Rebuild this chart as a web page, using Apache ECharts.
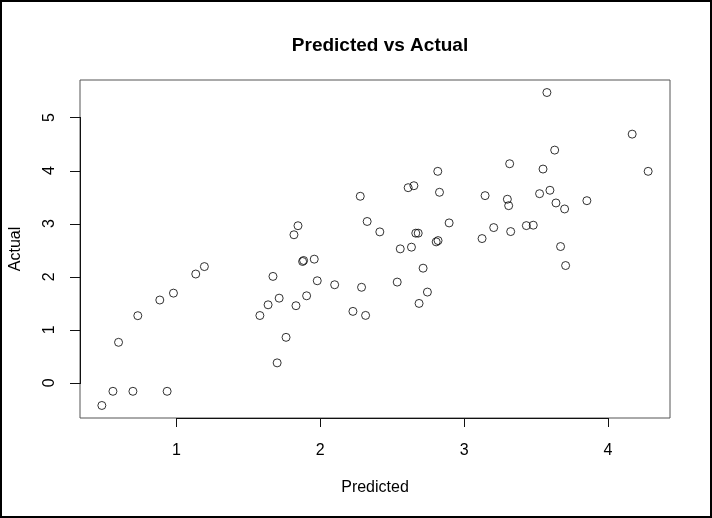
<!DOCTYPE html>
<html>
<head>
<meta charset="utf-8">
<script src="https://cdn.jsdelivr.net/npm/echarts@6/dist/echarts.min.js"></script>
<style>
  html, body { margin: 0; padding: 0; background: #fff; }
  #chart { width: 712px; height: 518px; }
</style>
</head>
<body>
<div id="chart"></div>
<script>
// ---- data ----
const titleText = 'Predicted vs Actual';
const xName = 'Predicted';
const yName = 'Actual';
const predicted = [
  0.481, 0.558, 0.697, 0.935, 0.597, 0.731, 0.884, 0.979, 1.134, 1.194,
  1.580, 1.637, 1.671, 1.700, 1.714, 1.762, 1.831, 1.905, 1.979, 1.877,
  1.884, 1.958, 1.817, 1.845, 2.100, 2.227, 2.315, 2.287, 2.278, 2.326,
  2.414, 2.535, 2.556, 2.634, 2.611, 2.651, 2.664, 2.681, 2.715, 2.745,
  2.687, 2.829, 2.817, 2.806, 2.819, 2.896, 3.576, 4.169, 4.280, 3.630,
  3.317, 3.549, 3.146, 3.301, 3.310, 3.525, 3.597, 3.639, 3.699, 3.854,
  3.206, 3.125, 3.324, 3.433, 3.481, 3.671, 3.706
];
const actual = [
  -0.427, -0.160, -0.160, -0.160, 0.763, 1.265, 1.560, 1.690, 2.050, 2.190,
  1.268, 1.470, 2.005, 0.376, 1.595, 0.857, 1.453, 1.640, 1.923, 2.286,
  2.305, 2.330, 2.790, 2.960, 1.848, 1.346, 1.270, 1.800, 3.515, 3.040,
  2.844, 1.898, 2.524, 2.556, 3.677, 3.714, 2.820, 2.820, 2.160, 1.710,
  1.496, 3.590, 3.985, 2.656, 2.680, 3.013, 5.470, 4.686, 3.985, 4.385,
  4.128, 4.028, 3.527, 3.459, 3.338, 3.564, 3.628, 3.389, 3.276, 3.432,
  2.925, 2.718, 2.850, 2.962, 2.970, 2.568, 2.210
];
const xTicks = [1, 2, 3, 4];
const yTicks = [0, 1, 2, 3, 4, 5];

// R-style 4% axis extension
function ext(arr) {
  const mn = Math.min(...arr), mx = Math.max(...arr), d = (mx - mn) * 0.04;
  return [mn - d, mx + d];
}
const xr = ext(predicted), yr = ext(actual);
const points = predicted.map((p, i) => [p, actual[i]]);

const font = '"Liberation Sans", Arial, Helvetica, sans-serif';
const ink = '#111';
const crisp = v => Math.round(v) + 0.5;

// tick marks drawn by custom series through the chart's own coordinate mapping
const xTickData = xTicks.map(v => [v, yr[0]]);
const yTickData = yTicks.map(v => [xr[0], v]);
const xSegData = [[xTicks[0], yr[0], xTicks[xTicks.length - 1]]];
const ySegData = [[xr[0], yTicks[0], yTicks[yTicks.length - 1]]];

const chart = echarts.init(document.getElementById('chart'), null, { renderer: 'canvas' });
chart.setOption({
  animation: false,
  backgroundColor: '#fff',
  title: {
    text: titleText,
    left: 375, top: 31, textAlign: 'center',
    textStyle: { fontFamily: font, fontWeight: 'bold', fontSize: 19, color: '#000' }
  },
  grid: {
    left: 80, top: 80, width: 590, height: 338,
    show: true, borderColor: '#555', borderWidth: 1, backgroundColor: 'transparent'
  },
  xAxis: {
    type: 'value', min: xr[0], max: xr[1], position: 'bottom',
    name: xName, nameLocation: 'middle', nameGap: 62,
    nameTextStyle: { fontFamily: font, fontSize: 16, color: '#000' },
    axisLine: { show: false, onZero: false },
    splitLine: { show: false },
    axisTick: { show: false },
    axisLabel: { show: true, customValues: xTicks, margin: 25, fontFamily: font, fontSize: 16, color: '#000' }
  },
  yAxis: {
    type: 'value', min: yr[0], max: yr[1], position: 'left',
    name: yName, nameLocation: 'middle', nameGap: 56, nameRotate: 90,
    nameTextStyle: { fontFamily: font, fontSize: 16, color: '#000' },
    axisLine: { show: false, onZero: false },
    splitLine: { show: false },
    axisTick: { show: false },
    axisLabel: { show: true, customValues: yTicks, rotate: 90, margin: 22, fontFamily: font, fontSize: 16, color: '#000' }
  },
  graphic: [{
    type: 'rect', z: 100, silent: true,
    shape: { x: 1, y: 1, width: 710, height: 516 },
    style: { fill: 'none', stroke: '#000', lineWidth: 2 }
  }],
  series: [
    {
      type: 'scatter',
      data: points,
      symbol: 'circle', symbolSize: 8,
      itemStyle: { color: 'rgba(0,0,0,0)', borderColor: '#000', borderWidth: 1 }
    },
    {
      type: 'custom', clip: false, silent: true, z: 5,
      data: xTickData,
      encode: { x: 0, y: 1 },
      renderItem: (params, api) => {
        const p = api.coord([api.value(0), api.value(1)]);
        const x = crisp(p[0]), y = Math.round(p[1]);
        return { type: 'rect', shape: { x: x - 0.5, y: y, width: 1, height: 9 }, style: { fill: ink } };
      }
    },
    {
      type: 'custom', clip: false, silent: true, z: 5,
      data: yTickData,
      encode: { x: 0, y: 1 },
      renderItem: (params, api) => {
        const p = api.coord([api.value(0), api.value(1)]);
        const x = Math.round(p[0]), y = crisp(p[1]);
        return { type: 'rect', shape: { x: x - 10, y: y - 0.5, width: 10, height: 1 }, style: { fill: ink } };
      }
    },
    {
      type: 'custom', clip: false, silent: true, z: 5,
      data: xSegData,
      encode: { x: 0, y: 1 },
      renderItem: (params, api) => {
        const a = api.coord([api.value(0), api.value(1)]);
        const b = api.coord([api.value(2), api.value(1)]);
        const y = Math.round(a[1]);
        return { type: 'rect', shape: { x: Math.round(a[0]), y: y, width: Math.round(b[0]) - Math.round(a[0]) + 1, height: 1 }, style: { fill: ink } };
      }
    },
    {
      type: 'custom', clip: false, silent: true, z: 5,
      data: ySegData,
      encode: { x: 0, y: 1 },
      renderItem: (params, api) => {
        const a = api.coord([api.value(0), api.value(1)]);
        const b = api.coord([api.value(0), api.value(2)]);
        const x = Math.round(a[0]);
        return { type: 'rect', shape: { x: x, y: Math.round(b[1]), width: 1, height: Math.round(a[1]) - Math.round(b[1]) + 1 }, style: { fill: ink } };
      }
    }
  ]
});
</script>
</body>
</html>
